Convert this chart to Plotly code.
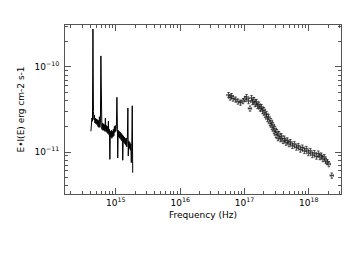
import plotly.graph_objects as go

# Optical/UV spectrum: frequency (units of 1e14 Hz), flux (units of 1e-11 erg cm-2 s-1)
opt_freq_e14 = [4.10, 4.18, 4.25, 4.33, 4.41, 4.49, 4.57, 4.65, 4.73, 4.82, 4.90, 4.99, 5.08, 5.17, 5.27,
                5.36, 5.46, 5.56, 5.66, 5.76, 5.86, 5.97, 6.07, 6.18, 6.30, 6.41, 6.52, 6.64, 6.76, 6.88,
                7.01, 7.13, 7.26, 7.39, 7.52, 7.66, 7.80, 7.94, 8.08, 8.23, 8.37, 8.52, 8.68, 8.83, 8.99,
                9.15, 9.32, 9.49, 9.66, 9.83, 10.0, 10.2, 10.4, 10.6, 10.7, 10.9, 11.1, 11.3, 11.5, 11.8,
                12.0, 12.2, 12.4, 12.6, 12.8, 13.1, 13.3, 13.6, 13.8, 14.0, 14.3, 14.6, 14.8, 15.1, 15.4,
                15.6, 15.9, 16.2, 16.5, 16.8, 17.1, 17.4, 17.7, 18.0, 18.3]
opt_flux_e11 = [1.75, 2.1, 2.5, 2.3, 28.0, 3.0, 2.4, 2.7, 2.2, 2.5, 2.15, 2.45, 2.1, 2.4, 2.0,
                2.35, 1.95, 2.6, 1.95, 2.25, 13.5, 2.2, 1.85, 2.2, 1.8, 2.15, 1.8, 2.1, 1.75, 2.5,
                1.75, 2.05, 1.7, 2.0, 1.65, 2.3, 1.6, 1.85, 0.82, 1.75, 1.5, 1.8, 1.45, 1.75, 1.5,
                1.85, 1.55, 2.0, 1.7, 2.05, 1.75, 2.0, 4.4, 1.85, 0.85, 1.8, 1.5, 1.75, 1.45, 1.7,
                1.4, 1.65, 1.35, 1.6, 0.8, 1.55, 1.3, 1.5, 1.25, 1.45, 1.2, 1.45, 1.15, 1.4, 3.3,
                0.9, 1.35, 1.1, 1.3, 1.05, 1.25, 0.75, 1.15, 3.5, 0.57]

# X-ray data: frequency (units of 1e17 Hz), flux (units of 1e-11)
xr_freq_e17 = [0.566, 0.597, 0.630, 0.664, 0.727, 0.794, 0.868, 0.949, 1.020, 1.076, 1.155, 1.219, 1.286,
               1.332, 1.406, 1.457, 1.537, 1.593, 1.681, 1.742, 1.838, 1.905, 2.009, 2.082, 2.197, 2.277,
               2.359, 2.489, 2.579, 2.673, 2.770, 2.871, 2.975, 3.083, 3.195, 3.311, 3.431, 3.620, 3.752,
               3.958, 4.176, 4.406, 4.648, 4.904, 5.174, 5.556, 5.967, 6.409, 6.883, 7.392, 7.939, 8.526,
               9.156, 9.839, 10.57, 11.35, 12.19, 13.09, 14.06, 14.83, 15.65, 16.51, 17.42, 18.38, 19.39,
               20.46, 22.77]
xr_flux_e11 = [4.68, 4.38, 4.56, 4.26, 4.15, 3.93, 3.82, 3.98, 4.20, 4.44, 3.98, 3.25, 4.32,
               3.88, 4.09, 3.67, 3.88, 3.48, 3.62, 3.25, 3.38, 3.04, 3.12, 2.73, 2.80, 2.45,
               2.58, 2.19, 2.32, 1.97, 2.08, 1.77, 1.87, 1.59, 1.72, 1.46, 1.63, 1.42, 1.54,
               1.35, 1.44, 1.29, 1.37, 1.24, 1.31, 1.18, 1.24, 1.13, 1.18, 1.07, 1.13, 1.03,
               1.09, 0.973, 1.03, 0.922, 0.973, 0.885, 0.960, 0.873, 0.910, 0.827, 0.873, 0.784, 0.763,
               0.722, 0.529]

x_major = [1e15, 1e16, 1e17, 1e18]
x_major_text = ["10<sup>15</sup>", "10<sup>16</sup>", "10<sup>17</sup>", "10<sup>18</sup>"]
y_major = [1e-11, 1e-10]
y_major_text = ["10<sup>\u221211</sup>", "10<sup>\u221210</sup>"]
x_minor = [m * 10 ** e for e in (14, 15, 16, 17, 18) for m in range(2, 10)]
y_minor = [m * 10 ** e for e in (-12, -11, -10) for m in range(2, 10)]

opt_x = [v * 1e14 for v in opt_freq_e14]
opt_y = [v * 1e-11 for v in opt_flux_e11]
xr_x = [v * 1e17 for v in xr_freq_e17]
xr_y = [v * 1e-11 for v in xr_flux_e11]

fig = go.Figure()
fig.add_trace(go.Scatter(x=opt_x, y=opt_y, mode="lines",
                         line=dict(color="black", width=1), showlegend=False))
fig.add_trace(go.Scatter(x=xr_x, y=xr_y, mode="markers",
                         marker=dict(color="black", size=1, opacity=0),
                         error_y=dict(type="percent", value=7, color="#222", thickness=0.8, width=1.2),
                         error_x=dict(type="percent", value=6, color="#222", thickness=0.8, width=1.2),
                         showlegend=False))

font = dict(family="DejaVu Sans", size=9, color="black")
axis_common = dict(
    showgrid=False, zeroline=False, showline=True, linecolor="#555", linewidth=1,
    mirror="ticks", ticks="inside", ticklen=6, tickcolor="#555", tickwidth=1,
    tickfont=font, automargin=False,
)

fig.update_xaxes(type="log", range=[14.21, 18.50], tickvals=x_major, ticktext=x_major_text,
                 minor=dict(tickvals=x_minor, ticks="inside", ticklen=3, tickcolor="#555", showgrid=False),
                 title=dict(text="Frequency (Hz)", font=font, standoff=4),
                 **axis_common)
fig.update_yaxes(type="log", range=[-11.494, -9.506], tickvals=y_major, ticktext=y_major_text,
                 minor=dict(tickvals=y_minor, ticks="inside", ticklen=3, tickcolor="#555", showgrid=False),
                 title=dict(text="E\u2022I(E) erg cm-2 s-1", font=font, standoff=8),
                 ticklabelstandoff=3,
                 **axis_common)

# page body has an 8px default margin, so the figure is sized to fit the 354x274 window
fig.update_layout(width=346, height=266, margin=dict(l=57, r=13, t=17, b=80),
                  paper_bgcolor="white", plot_bgcolor="white")

fig.write_html("out.html")
